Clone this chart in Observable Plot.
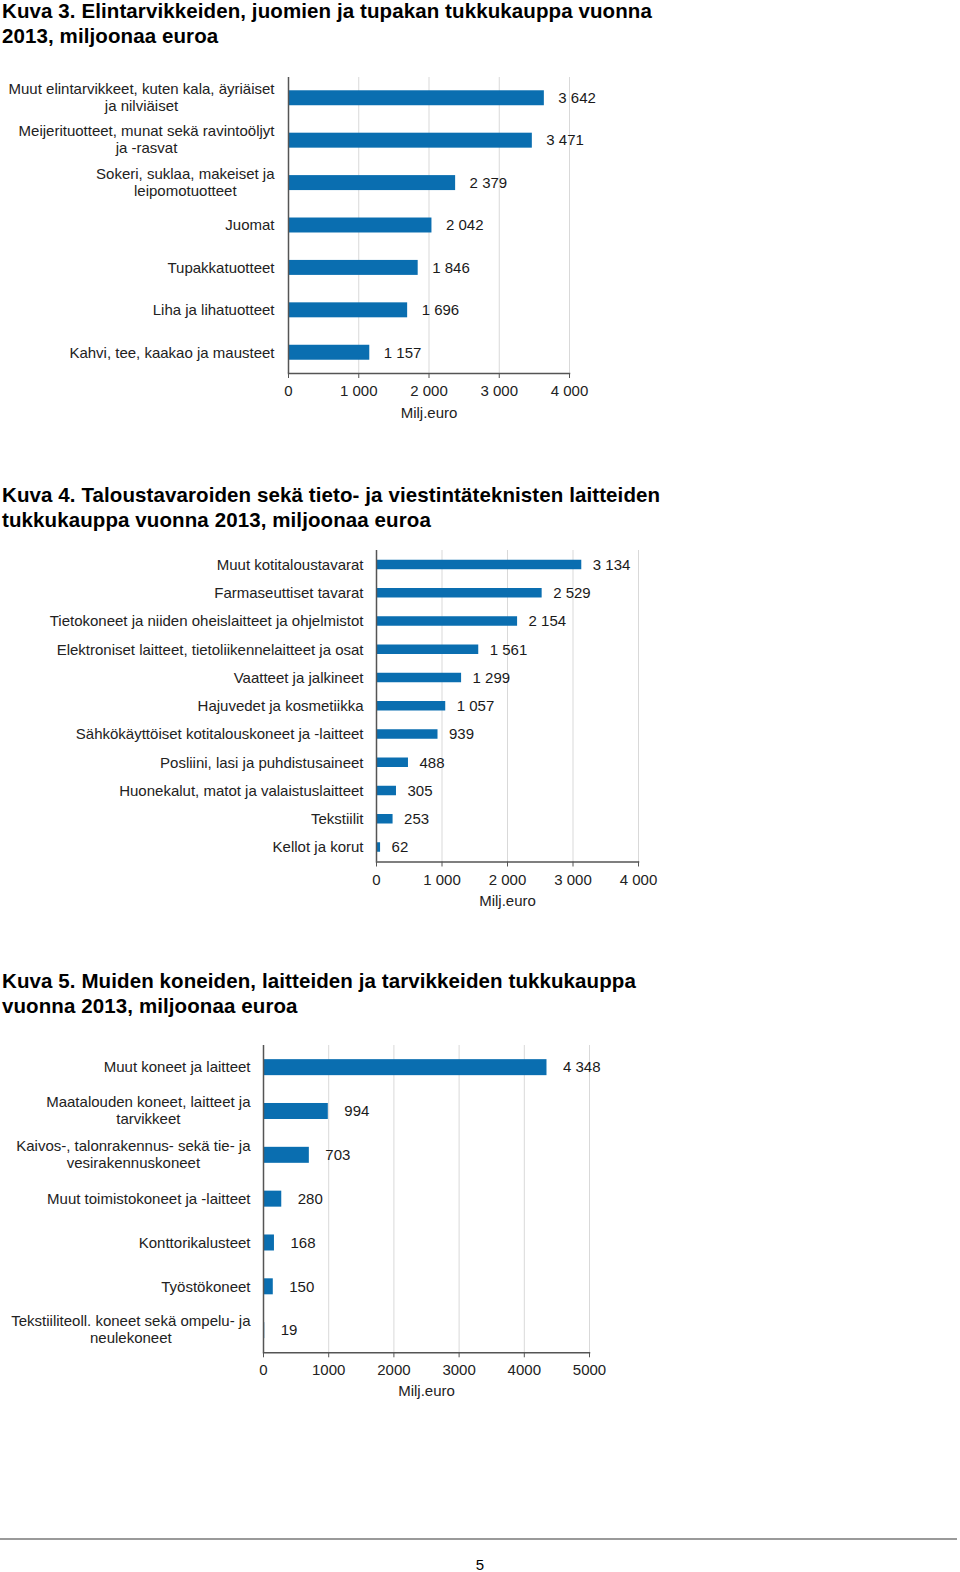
<!DOCTYPE html>
<html><head><meta charset="utf-8">
<script src="https://cdn.jsdelivr.net/npm/d3@7"></script>
<script src="https://cdn.jsdelivr.net/npm/@observablehq/plot@0.6"></script>
<style>
body{margin:0;background:#fff;}
#page{position:relative;width:960px;height:1572px;overflow:hidden;font-family:"Liberation Sans",Arial,sans-serif;background:#fff;}
.title{position:absolute;left:2px;font-weight:bold;font-size:20.5px;letter-spacing:0.1px;line-height:25px;color:#000;white-space:nowrap;}
.chart{position:absolute;left:0;}
#rule{position:absolute;left:0;top:1538px;width:957px;height:2px;background:#9a9a9a;}
#pnum{position:absolute;top:1556px;left:0;width:960px;text-align:center;font-size:15px;color:#000;}
</style></head><body>
<div id="page">
  <div class="title" id="t1" style="top:-2px">Kuva 3. Elintarvikkeiden, juomien ja tupakan tukkukauppa vuonna<br>2013, miljoonaa euroa</div>
  <div class="chart" id="c1" style="top:60px"></div>
  <div class="title" id="t2" style="top:482px">Kuva 4. Taloustavaroiden sekä tieto- ja viestintäteknisten laitteiden<br>tukkukauppa vuonna 2013, miljoonaa euroa</div>
  <div class="chart" id="c2" style="top:535px"></div>
  <div class="title" id="t3" style="top:968px">Kuva 5. Muiden koneiden, laitteiden ja tarvikkeiden tukkukauppa<br>vuonna 2013, miljoonaa euroa</div>
  <div class="chart" id="c3" style="top:1030px"></div>
  <div id="rule"></div>
  <div id="pnum">5</div>
</div>
<script>
// ---- Data ----
const cats1 = [
  "Muut elintarvikkeet, kuten kala, äyriäiset\nja nilviäiset",
  "Meijerituotteet, munat sekä ravintoöljyt\nja -rasvat",
  "Sokeri, suklaa, makeiset ja\nleipomotuotteet",
  "Juomat",
  "Tupakkatuotteet",
  "Liha ja lihatuotteet",
  "Kahvi, tee, kaakao ja mausteet"
];
const vals1 = [3642, 3471, 2379, 2042, 1846, 1696, 1157];
const ticks1 = [0, 1000, 2000, 3000, 4000];

const cats2 = [
  "Muut kotitaloustavarat",
  "Farmaseuttiset tavarat",
  "Tietokoneet ja niiden oheislaitteet ja ohjelmistot",
  "Elektroniset laitteet, tietoliikennelaitteet ja osat",
  "Vaatteet ja jalkineet",
  "Hajuvedet ja kosmetiikka",
  "Sähkökäyttöiset kotitalouskoneet ja -laitteet",
  "Posliini, lasi ja puhdistusaineet",
  "Huonekalut, matot ja valaistuslaitteet",
  "Tekstiilit",
  "Kellot ja korut"
];
const vals2 = [3134, 2529, 2154, 1561, 1299, 1057, 939, 488, 305, 253, 62];
const ticks2 = [0, 1000, 2000, 3000, 4000];

const cats3 = [
  "Muut koneet ja laitteet",
  "Maatalouden koneet, laitteet ja\ntarvikkeet",
  "Kaivos-, talonrakennus- sekä tie- ja\nvesirakennuskoneet",
  "Muut toimistokoneet ja -laitteet",
  "Konttorikalusteet",
  "Työstökoneet",
  "Tekstiiliteoll. koneet sekä ompelu- ja\nneulekoneet"
];
const vals3 = [4348, 994, 703, 280, 168, 150, 19];
const ticks3 = [0, 1000, 2000, 3000, 4000, 5000];

const axisLabel = "Milj.euro";

// ---- Helpers ----
const FONT = "15px 'Liberation Sans'";
const ctx = document.createElement("canvas").getContext("2d");
ctx.font = FONT;
const measure = s => ctx.measureText(s).width;
const fi = d3.formatLocale({decimal: ",", thousands: " ", grouping: [3], currency: ["", ""]});
const fmtSpace = fi.format(",d");
const fmtPlain = d3.format("d");

function chart(el, cats, vals, ticks, o) {
  const data = cats.map((c, i) => ({cat: c, value: vals[i]}));
  const multi = cats.filter(c => c.includes("\n"));
  const plot = Plot.plot({
    width: 960,
    height: o.height,
    marginTop: o.mTop,
    marginBottom: o.mBottom,
    marginLeft: o.mLeft,
    marginRight: o.mRight,
    x: {domain: [ticks[0], ticks[ticks.length - 1]]},
    y: {domain: cats, paddingInner: o.pi, paddingOuter: o.po, round: false, label: null},
    style: {fontFamily: "'Liberation Sans', Arial, sans-serif", fontSize: "15px", background: "transparent", color: "#222"},
    marks: [
      Plot.gridX(ticks.filter(t => t > 0), {stroke: "#d9d9d9", strokeOpacity: 1}),
      Plot.barX(data, {y: "cat", x: "value", fill: "#0a6eb0"}),
      Plot.text(data, {y: "cat", x: "value", text: d => fmtSpace(d.value), textAnchor: "start", dx: o.dxVal, fill: "#1a1a1a"}),
      Plot.ruleX([0], {stroke: "#555", strokeWidth: 1.5}),
      Plot.frame({anchor: "bottom", stroke: "#555", strokeWidth: 1.5}),
      Plot.axisX({ticks, tickFormat: o.tickFmt, tickSize: 5, tickPadding: 7, stroke: "#555", fill: "#222", label: null}),
      Plot.axisY({tickSize: 0, tickPadding: o.pad, tickFormat: d => d.includes("\n") ? "" : d, fill: "#222", label: null}),
      ...multi.map(c => Plot.text([c], {
        y: d => d, text: d => d, frameAnchor: "left", textAnchor: "middle",
        lineHeight: 1.14, dy: -1.5, dx: -(o.pad + measure(c.split("\n")[0]) / 2), fill: "#222"
      })),
      Plot.text([axisLabel], {frameAnchor: "bottom", text: d => d, dy: o.labDy, fill: "#222"})
    ]
  });
  document.getElementById(el).appendChild(plot);
}

chart("c1", cats1, vals1, ticks1, {height: 372, mTop: 17, mBottom: 59, mLeft: 288, mRight: 391, pi: 0.647, po: 0.313, pad: 14, dxVal: 14, tickFmt: fmtSpace, labDy: 44});
chart("c2", cats2, vals2, ticks2, {height: 380, mTop: 15, mBottom: 53.5, mLeft: 376, mRight: 322, pi: 0.664, po: 0.345, pad: 13, dxVal: 11, tickFmt: fmtSpace, labDy: 44});
chart("c3", cats3, vals3, ticks3, {height: 380, mTop: 15, mBottom: 57.7, mLeft: 263, mRight: 371, pi: 0.635, po: 0.323, pad: 13, dxVal: 16, tickFmt: fmtPlain, labDy: 43});
</script>
</body></html>
